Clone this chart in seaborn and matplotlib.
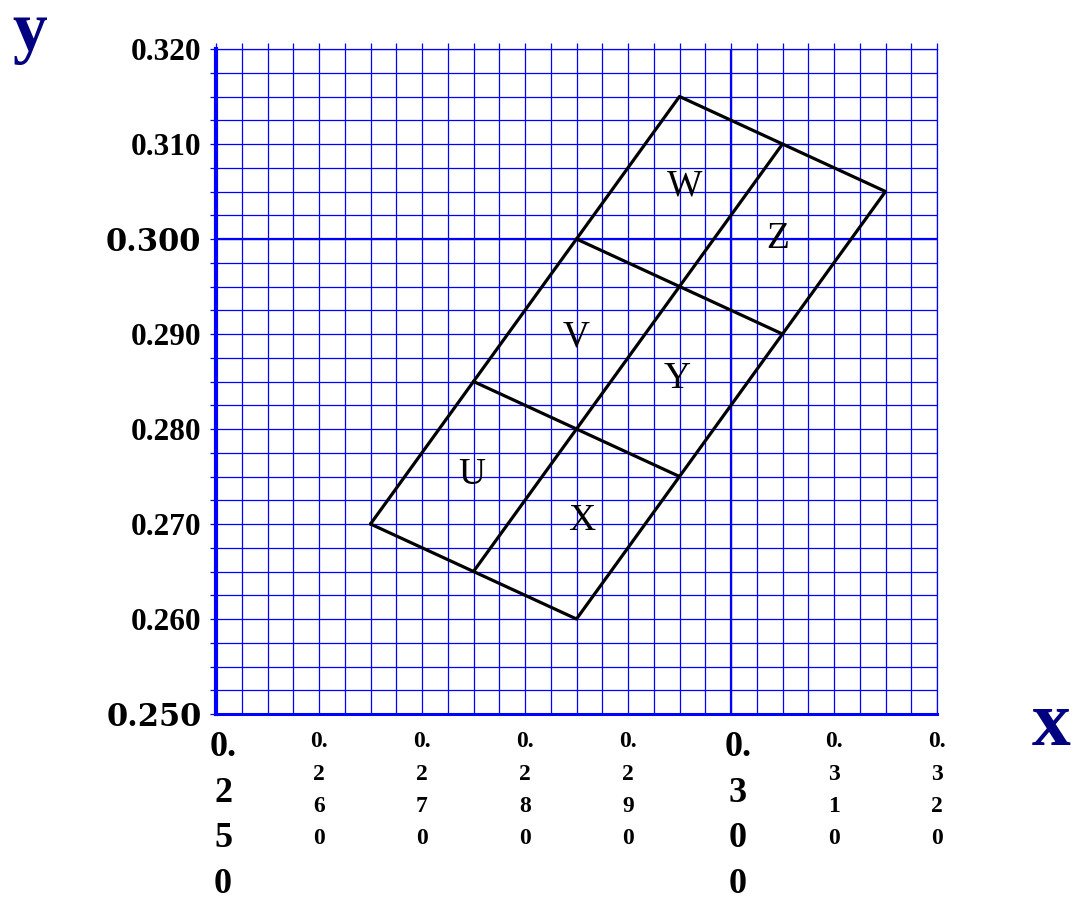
import numpy as np
import pandas as pd
import matplotlib
matplotlib.use("Agg")
import matplotlib.pyplot as plt
import matplotlib.transforms as mtransforms
import seaborn as sns

# ---- data ----
seg_id = [0, 0, 0, 0, 0, 1, 1, 2, 2, 3, 3]
seg_x = [0.265, 0.285, 0.315, 0.295, 0.265, 0.275, 0.305, 0.275, 0.295, 0.285, 0.305]
seg_y = [0.270, 0.260, 0.305, 0.315, 0.270, 0.265, 0.310, 0.285, 0.275, 0.300, 0.290]

region_labels = ["U", "V", "W", "X", "Y", "Z"]
label_x = [0.2748, 0.2850, 0.2955, 0.2855, 0.2948, 0.3045]
label_y = [0.2752, 0.2897, 0.3056, 0.2703, 0.2853, 0.3000]

y_ticks = [0.250, 0.260, 0.270, 0.280, 0.290, 0.300, 0.310, 0.320]
y_tick_labels = ["0.250", "0.260", "0.270", "0.280", "0.290", "0.300", "0.310", "0.320"]
x_ticks = [0.250, 0.260, 0.270, 0.280, 0.290, 0.300, 0.310, 0.320]
x_tick_labels = ["0.250", "0.260", "0.270", "0.280", "0.290", "0.300", "0.310", "0.320"]
emphasised = ["0.250", "0.300"]

df = pd.DataFrame({"seg": seg_id, "x": seg_x, "y": seg_y})

sns.set_theme(style="white")
plt.rcParams["font.family"] = ["Liberation Serif", "DejaVu Serif"]

W, H = 1072, 899
fig = plt.figure(figsize=(W / 100, H / 100), dpi=100)
ax = fig.add_axes([216 / W, (H - 714) / H, (937 - 216) / W, (714 - 49) / H])

blue = (0, 0, 1)
ax.set_xlim(0.25, 0.32)
ax.set_ylim(0.25, 0.32)
ax.set_xticks(x_ticks)
ax.set_yticks(y_ticks)
ax.set_xticks(np.arange(0.25, 0.32001, 0.0025), minor=True)
ax.set_yticks(np.arange(0.25, 0.32001, 0.0025), minor=True)
ax.grid(which="both", color=blue, lw=0.9)
ax.set_axisbelow(True)
ax.axvline(0.30, color=blue, lw=1.6, zorder=1)
ax.axhline(0.30, color=blue, lw=1.6, zorder=1)

for side in ["top", "right"]:
    ax.spines[side].set_color(blue)
    ax.spines[side].set_linewidth(0.9)
ax.spines["left"].set_color(blue)
ax.spines["left"].set_linewidth(3.0)
ax.spines["bottom"].set_color(blue)
ax.spines["bottom"].set_linewidth(2.2)

ax.tick_params(which="both", top=True, left=True, bottom=False, right=False,
               direction="out", length=4.5, color=blue, width=0.9)
ax.tick_params(axis="y", which="major", pad=6)
ax.tick_params(axis="x", which="major", pad=8)

sns.lineplot(data=df, x="x", y="y", units="seg", estimator=None, sort=False,
             color="black", lw=2.3, ax=ax, zorder=5)
ax.set_xlabel("")
ax.set_ylabel("")

for t, xx, yy in zip(region_labels, label_x, label_y):
    ax.text(xx, yy, t, ha="center", va="center", fontsize=27,
            family=["Liberation Serif"], color="black", zorder=6)

ax.set_yticklabels(y_tick_labels)
for lab in ax.get_yticklabels():
    if lab.get_text() in emphasised:
        lab.set_fontfamily(["DejaVu Serif"])
        lab.set_fontsize(22)
    else:
        lab.set_fontfamily(["Liberation Serif"])
        lab.set_fontsize(22.5)
    lab.set_fontweight("bold")
    lab.set_color("black")

ax.set_xticklabels(["\n".join(["0."] + list(s[2:])) for s in x_tick_labels])
for lab, s in zip(ax.get_xticklabels(), x_tick_labels):
    lab.set_fontfamily(["Liberation Serif"])
    lab.set_fontweight("bold")
    lab.set_color("black")
    lab.set_verticalalignment("top")
    lab.set_horizontalalignment("center")
    if s in emphasised:
        lab.set_fontsize(26)
        lab.set_linespacing(1.5)
        lab.set_transform(lab.get_transform() +
                          mtransforms.ScaledTranslation(7 / 100, 0, fig.dpi_scale_trans))
    else:
        lab.set_fontsize(17)
        lab.set_linespacing(1.7)

navy = "#000080"
fig.text(30 / W, 1 - 50 / H, "y", ha="center", va="baseline", fontsize=50,
         fontweight="bold", color=navy, family=["Liberation Serif"])
fig.text(1051 / W, 1 - 745 / H, "x", ha="center", va="baseline", fontsize=56,
         fontweight="bold", color=navy, family=["Liberation Serif"])

fig.savefig("out.png", dpi=100, facecolor="white")
